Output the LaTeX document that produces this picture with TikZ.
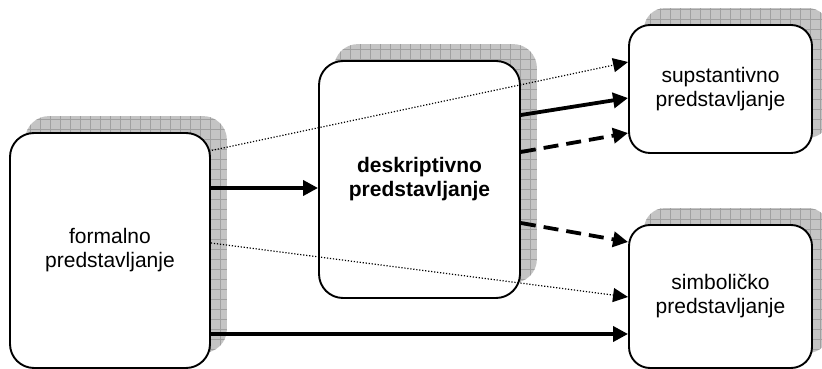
\documentclass[tikz,border=0pt]{standalone}
\usepackage{fontspec}
\setmainfont{Liberation Sans}
\usetikzlibrary{arrows.meta}
\pgfdeclarelayer{background}
\pgfsetlayers{background,main}
\definecolor{shadowgray}{HTML}{C4C4C4}
\definecolor{gridgray}{HTML}{A0A0A0}
\tikzset{
  box/.style={draw, line width=1.9pt, rounded corners=24pt, fill=white, align=center,
    inner sep=0pt, font=\fontsize{21pt}{24pt}\selectfont},
  thickarrow/.style={line width=3.8pt, -{Triangle[length=15pt,width=15pt]}},
  dasharrow/.style={line width=3.8pt, dash pattern=on 15pt off 8pt, -{Triangle[length=15pt,width=15pt]}},
  dotarrow/.style={line width=1.2pt, dash pattern=on 1.2pt off 1.8pt, -{Triangle[length=15pt,width=14pt]}},
}
\newcommand{\boxshadow}[2]{%
  \begin{scope}
    \clip[rounded corners=#2] ([shift={(16pt,16pt)}]#1.south west) rectangle ([shift={(16pt,16pt)}]#1.north east);
    \fill[shadowgray] (0,0) rectangle (840,390);
    \draw[gridgray, line width=0.6pt, step=10pt] (0,0) grid (840,390);
  \end{scope}}
\begin{document}
\begin{tikzpicture}[x=1pt,y=1pt]
\useasboundingbox (0,0) rectangle (822,369);
\node[box, minimum width=200pt, minimum height=235pt] (A) at (110,118.5) {formalno\\predstavljanje};
\node[box, minimum width=201pt, minimum height=237pt, font=\fontsize{21pt}{24pt}\selectfont\bfseries] (B) at (419.5,189.5) {deskriptivno\\predstavljanje};
\node[box, rounded corners=21pt, minimum width=183pt, minimum height=128pt] (C) at (720.5,280) {supstantivno\\predstavljanje};
\node[box, rounded corners=21pt, minimum width=183pt, minimum height=143pt] (D) at (720.5,72.5) {simboličko\\predstavljanje};
\begin{pgfonlayer}{background}
  \boxshadow{A}{24pt}
  \boxshadow{B}{24pt}
  \boxshadow{C}{21pt}
  \boxshadow{D}{21pt}
\end{pgfonlayer}
% connectors
\draw[thickarrow] ([yshift=62.5pt]A.east) -- ([yshift=-8.5pt]B.west);
\draw[thickarrow] ([yshift=-83.5pt]A.east) -- ([yshift=-37.5pt]D.west);
\draw[dotarrow] ([xshift=-2pt,yshift=99.5pt]A.east) -- ([yshift=27pt]C.west);
\draw[dotarrow] ([yshift=7.5pt]A.east) -- ([yshift=-0.5pt]D.west);
\draw[thickarrow] ([yshift=64.5pt]B.east) -- ([yshift=-9pt]C.west);
\draw[dasharrow] ([yshift=27.5pt]B.east) -- ([yshift=-44pt]C.west);
\draw[dasharrow] ([yshift=-43.5pt]B.east) -- ([yshift=54.5pt]D.west);
\end{tikzpicture}
\end{document}
